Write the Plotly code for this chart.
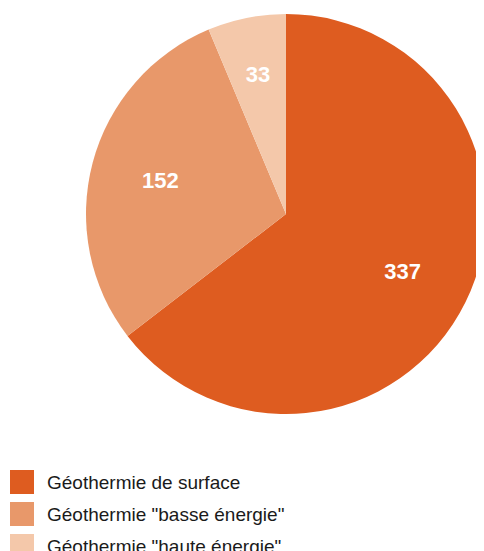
import plotly.graph_objects as go

# data
labels = ["Géothermie de surface", 'Géothermie "basse énergie"', 'Géothermie "haute énergie"']
values = [337, 152, 33]
colors = ["#DE5C20", "#E8986A", "#F4C8AA"]

W, H = 484, 551
OFF = 8  # marge du body de la page


def px(x):
    return (x - OFF) / W


def py(y):
    return 1 - (y - OFF) / H


CX, CY, R = 286, 214, 200  # centre et rayon du camembert (pixels)


def domain(k):
    r = R * k
    return dict(x=[px(CX - r), px(CX + r)], y=[py(CY + r), py(CY - r)])


common = dict(
    labels=labels, values=values, sort=False,
    direction="clockwise", rotation=0,
    showlegend=False,
)
lab_font = dict(family="Liberation Sans, Arial, sans-serif", size=22, color="white", weight="bold")

# camembert plein (sans texte)
base = go.Pie(
    textinfo="none", domain=domain(1.0), hoverinfo="label+value",
    marker=dict(colors=colors, line=dict(color="white", width=0)), **common,
)
# anneau transparent : place les étiquettes des grandes parts plus loin du centre
ring = go.Pie(
    hole=0.3, domain=domain(1.0), hoverinfo="skip",
    marker=dict(colors=["rgba(0,0,0,0)"] * 3, line=dict(width=0)),
    texttemplate=["%{value}", "%{value}", ""],
    textposition="inside", insidetextorientation="horizontal",
    textfont=lab_font, **common,
)
# camembert réduit transparent : étiquette de la petite part
small = go.Pie(
    domain=domain(0.85), hoverinfo="skip",
    marker=dict(colors=["rgba(0,0,0,0)"] * 3, line=dict(width=0)),
    texttemplate=["", "", "%{value}"],
    textposition="inside", insidetextorientation="horizontal",
    textfont=lab_font, **common,
)
fig = go.Figure([base, ring, small])

# légende dessinée à la main (carrés + texte)
shapes = []
annotations = []
for i, (lab, col) in enumerate(zip(labels, colors)):
    yc = 482 + i * 32
    shapes.append(dict(
        type="rect", xref="paper", yref="paper",
        x0=px(10), x1=px(34),
        y0=py(yc + 12), y1=py(yc - 12),
        fillcolor=col, line=dict(width=0),
    ))
    annotations.append(dict(
        text=lab, xref="paper", yref="paper",
        x=px(45), y=py(yc),
        xanchor="left", yanchor="middle", showarrow=False,
        font=dict(family="Liberation Sans, Arial, sans-serif", size=19, color="#1a1a1a"),
    ))

fig.update_layout(
    width=W, height=H,
    margin=dict(l=0, r=0, t=0, b=0),
    paper_bgcolor="white",
    plot_bgcolor="white",
    shapes=shapes,
    annotations=annotations,
)

fig.write_html("out.html")
